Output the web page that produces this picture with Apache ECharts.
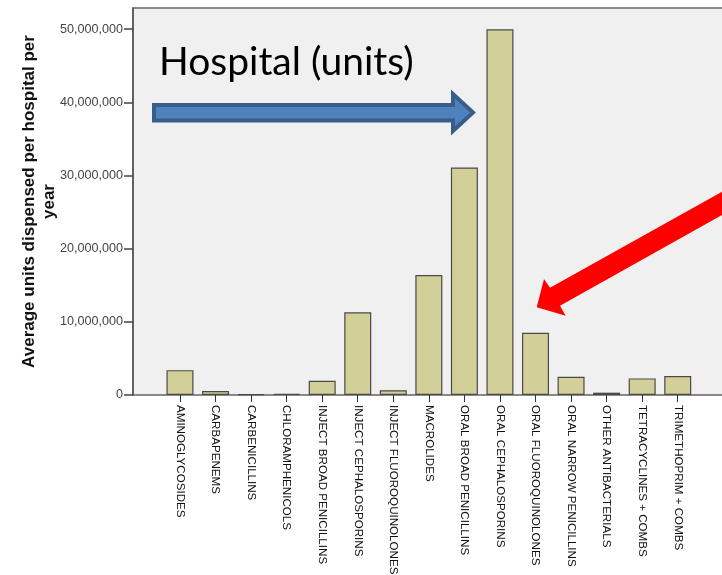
<!DOCTYPE html>
<html><head><meta charset="utf-8">
<script src="https://cdn.jsdelivr.net/npm/echarts@6/dist/echarts.min.js"></script>
<style>html,body{margin:0;padding:0;background:#fff}#c{width:722px;height:575px}</style>
</head><body><div id="c"></div>
<script>
const categories = ["AMINOGLYCOSIDES","CARBAPENEMS","CARBENICILLINS","CHLORAMPHENICOLS","INJECT BROAD PENICILLINS","INJECT CEPHALOSPORINS","INJECT FLUOROQUINOLONES","MACROLIDES","ORAL BROAD PENICILLINS","ORAL CEPHALOSPORINS","ORAL FLUOROQUINOLONES","ORAL NARROW PENICILLINS","OTHER ANTIBACTERIALS","TETRACYCLINES + COMBS","TRIMETHOPRIM + COMBS"];
const values = [3400000, 550000, 100000, 150000, 1950000, 11300000, 650000, 16400000, 31100000, 50000000, 8500000, 2500000, 320000, 2270000, 2600000];
const yTicks = [0, 10000000, 20000000, 30000000, 40000000, 50000000];
const yMax = 52900000;
const yName = "Average units dispensed per hospital per\nyear";
const annotation = "Hospital (units)";

const chart = echarts.init(document.getElementById('c'), null, {renderer: 'canvas'});
chart.setOption({
  animation: false,
  backgroundColor: '#ffffff',
  grid: [
    {left: 133, top: 8, width: 660, height: 387, show: true, backgroundColor: '#f0f0f0', borderColor: '#666', borderWidth: 1.5, outerBoundsMode: 'none', containLabel: false},
    {left: 162.2, top: 8, width: 533.3, height: 387, outerBoundsMode: 'none', containLabel: false}
  ],
  xAxis: [
    {type: 'value', gridIndex: 0, show: false, min: 0, max: 1},
    {type: 'category', gridIndex: 1, data: categories, boundaryGap: true,
     axisLine: {show: false},
     axisTick: {show: true, alignWithLabel: true, length: 7, lineStyle: {color: '#333', width: 1}},
     axisLabel: {interval: 0, rotate: -90, margin: 10, color: '#111', fontFamily: 'Liberation Sans', fontSize: 11.6}}
  ],
  yAxis: [
    {type: 'value', gridIndex: 0, min: 0, max: yMax,
     name: yName, nameLocation: 'middle', nameGap: 74, nameMoveOverlap: false,
     nameTextStyle: {fontFamily: 'Liberation Sans', fontWeight: 'bold', fontSize: 17, color: '#111', lineHeight: 20},
     axisLine: {show: true, lineStyle: {color: '#555', width: 1.5}},
     axisTick: {show: true, length: 9, lineStyle: {color: '#444', width: 1.5}, customValues: yTicks},
     axisLabel: {margin: 10, color: '#444', fontFamily: 'Liberation Sans', fontSize: 12.6,
       customValues: yTicks, formatter: v => Number(v).toLocaleString('en-US')},
     splitLine: {show: false}},
    {type: 'value', gridIndex: 1, min: 0, max: yMax, show: false}
  ],
  series: [{
    type: 'bar', xAxisIndex: 1, yAxisIndex: 1, data: values, barWidth: 27,
    itemStyle: {color: '#d3cf98', borderColor: '#4a4a4a', borderWidth: 1.2}
  }],
  graphic: [
    {type: 'text', left: 159, top: 43, style: {text: annotation, font: '39px Lato', fill: '#000'}},
    {type: 'polygon', shape: {points: [[154,105],[453,105],[453,94],[473,112.5],[453,131],[453,120.5],[154,120.5]]},
     style: {fill: '#4f81bd', stroke: '#385d8a', lineWidth: 4, lineJoin: 'miter'}},
    {type: 'polygon', shape: {points: [[536.7,307.3],[544,279],[550,287.7],[740,181.6],[740,204.9],[560,305.7],[565.7,315.7]]},
     style: {fill: '#ff0000'}}
  ]
});
</script></body></html>
